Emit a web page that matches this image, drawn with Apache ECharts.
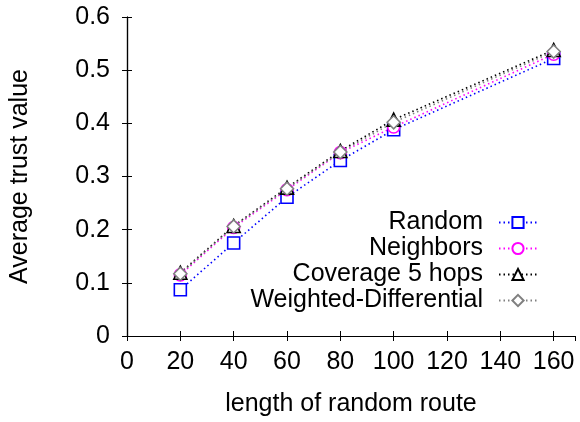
<!DOCTYPE html>
<html>
<head>
<meta charset="utf-8">
<script src="https://cdn.jsdelivr.net/npm/echarts@6/dist/echarts.min.js"></script>
<style>
  html, body { margin: 0; padding: 0; background: #fff; }
  #chart { width: 580px; height: 422px; }
</style>
</head>
<body>
<div id="chart"></div>
<script>
// route lengths and measured trust values
var routeLength = [20, 40, 60, 80, 100, 160];
var randomVals = [0.087, 0.175, 0.261, 0.330, 0.388, 0.522];
var neighborsVals = [0.115, 0.204, 0.275, 0.345, 0.393, 0.530];
var coverageVals = [0.119, 0.207, 0.279, 0.348, 0.407, 0.538];
var weightedVals = [0.117, 0.206, 0.277, 0.346, 0.402, 0.535];
var seriesNames = ['Random', 'Neighbors', 'Coverage 5 hops', 'Weighted-Differential'];

var font = 'Liberation Sans';
var chart = echarts.init(document.getElementById('chart'));

function pairs(vals) {
  return routeLength.map(function (x, i) { return [x, vals[i]]; });
}

function makeSeries(name, vals, color, symbol, size) {
  return {
    name: name,
    type: 'line',
    data: pairs(vals),
    symbol: symbol,
    symbolSize: size,
    showAllSymbol: true,
    lineStyle: { color: color, width: 1.6, type: [1.5, 3] },
    itemStyle: { color: '#fff', borderColor: color, borderWidth: 1.6 },
    emphasis: { disabled: true },
    z: 3
  };
}

var axisLine = { show: true, lineStyle: { color: '#000', width: 1.2 } };
var tick = { show: true, inside: true, length: 5, lineStyle: { color: '#000', width: 1 } };

var option = {
  animation: false,
  grid: { left: 127, right: 5, top: 17, bottom: 82 },
  legend: {
    data: seriesNames,
    orient: 'vertical',
    right: 37,
    top: 205,
    align: 'right',
    itemWidth: 38,
    itemHeight: 14,
    itemGap: 1,
    textStyle: { fontFamily: font, fontSize: 25, color: '#000', padding: [0, 11, 0, 0] }
  },
  xAxis: [{
    type: 'value',
    min: 0,
    max: 168,
    interval: 20,
    name: 'length of random route',
    nameLocation: 'middle',
    nameGap: 56,
    nameTextStyle: { fontFamily: font, fontSize: 25, color: '#000' },
    axisLine: axisLine,
    axisTick: tick,
    splitLine: { show: false },
    axisLabel: { fontFamily: font, fontSize: 25, color: '#000', margin: 14, showMaxLabel: false }
  }, {
    type: 'value',
    position: 'top',
    min: 0,
    max: 168,
    interval: 20,
    axisLine: axisLine,
    axisTick: tick,
    splitLine: { show: false },
    axisLabel: { show: false }
  }],
  yAxis: [{
    type: 'value',
    min: 0,
    max: 0.6,
    interval: 0.1,
    name: 'Average trust value',
    nameLocation: 'middle',
    nameGap: 94,
    nameTextStyle: { fontFamily: font, fontSize: 25, color: '#000' },
    axisLine: axisLine,
    axisTick: tick,
    splitLine: { show: false },
    axisLabel: { fontFamily: font, fontSize: 25, color: '#000', margin: 17 }
  }, {
    type: 'value',
    position: 'right',
    min: 0,
    max: 0.6,
    interval: 0.1,
    axisLine: axisLine,
    axisTick: tick,
    splitLine: { show: false },
    axisLabel: { show: false }
  }],
  series: [
    makeSeries(seriesNames[0], randomVals, '#0000ff', 'rect', 12),
    makeSeries(seriesNames[1], neighborsVals, '#ff00ff', 'circle', 12),
    makeSeries(seriesNames[2], coverageVals, '#000000', 'triangle', 13),
    makeSeries(seriesNames[3], weightedVals, '#808080', 'diamond', 13)
  ]
};

chart.setOption(option);
</script>
</body>
</html>
